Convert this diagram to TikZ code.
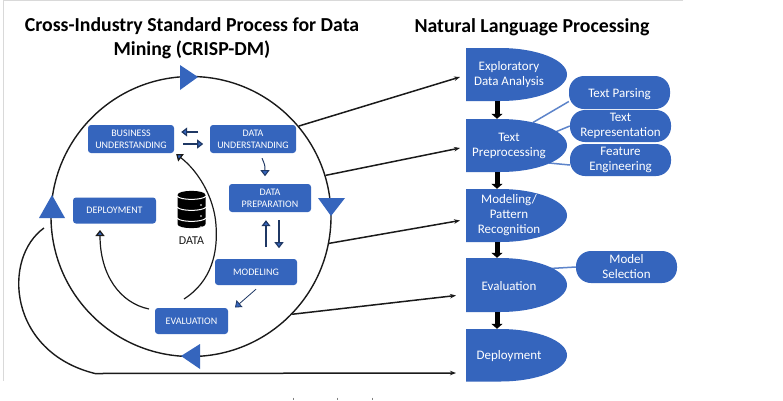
\documentclass[tikz,border=0pt]{standalone}
\usepackage{fontspec}
\setmainfont{Carlito}
\usetikzlibrary{arrows.meta,calc}
\definecolor{blu}{HTML}{3565BD}
\definecolor{navy}{HTML}{1F3864}
\definecolor{ink}{HTML}{1A1A1A}
\tikzset{
  x=1pt,y=-1pt,
  ttl/.style={font=\bfseries\fontsize{19.8}{23}\selectfont,text=black,align=center,inner sep=0},
  boxn/.style={fill=blu,rounded corners=3pt,text=white,align=center,inner sep=0,font=\fontsize{10}{12}\selectfont},
  pill/.style={fill=blu,rounded corners=15pt,text=white,align=center,inner sep=0,minimum width=101pt,font=\fontsize{13}{15}\selectfont,execute at begin node={\rule{0pt}{12.5pt}}},
  dtext/.style={text=white,align=center,inner sep=0,minimum width=86pt,font=\fontsize{13}{15}\selectfont,execute at begin node={\rule{0pt}{11.5pt}}},
  ring/.style={draw=ink,line width=1.4pt},
  link/.style={draw=ink,line width=1.5pt,-{Stealth[length=6pt,width=4.5pt]}},
  tie/.style={draw=blu!80!white,line width=1.5pt},
  bigdown/.style={draw=black,line width=5pt,-{Triangle[length=5pt,width=11pt]}},
  small/.style={draw=navy,line width=1.2pt,-{Triangle[length=6pt,width=9pt,fill=blu]}},
  tri/.style={fill=blu},
}
\newcommand{\dshape}[4]{% name, top, bottom, text
  \fill[blu] (466,#2) -- (500,#2) .. controls (537,#2) and (567,{#2+(#3-#2)*0.225}) .. (567,{(#2+#3)/2}) .. controls (567,{#3-(#3-#2)*0.225}) and (537,#3) .. (500,#3) -- (466,#3) -- cycle;
  \node[dtext,minimum height={(#3-#2)*1pt}] (#1) at (509,{(#2+#3)/2}) {#4};
}
\begin{document}
\begin{tikzpicture}
\useasboundingbox (0,0) rectangle (783,400);
\fill[white] (0,0) rectangle (783,400);
\draw[black!15,line width=1pt] (683,0.5) -- (3.5,0.5) -- (3.5,381);
% titles
\node[ttl] (t1) at (192,26) {Cross-Industry Standard Process for Data};
\node[ttl] (t2) at (192,50) {Mining (CRISP-DM)};
\node[ttl] (t3) at (532,27.5) {Natural Language Processing};
% ring
\node[circle,ring,minimum size=280pt,inner sep=0] (cyc) at (191,216.5) {};
\fill[tri] (180,65) -- (198,77) -- (180,90) -- cycle;
\fill[tri] (318,198) -- (345,198) -- (331,216) -- cycle;
\fill[tri] (200,344) -- (200,369) -- (181,356) -- cycle;
\fill[tri] (52,195) -- (65,218) -- (39,218) -- cycle;
% inner boxes
\node[boxn,minimum width=86pt,minimum height=28pt] (bu) at (131,139) {BUSINESS\\UNDERSTANDING};
\node[boxn,minimum width=86pt,minimum height=28pt] (du) at (253,139) {DATA\\UNDERSTANDING};
\node[boxn,minimum width=82pt,minimum height=28pt] (dp) at (270,198) {DATA\\PREPARATION};
\node[boxn,minimum width=83pt,minimum height=26pt] (de) at (114.5,210.5) {DEPLOYMENT};
\node[boxn,minimum width=82pt,minimum height=26pt] (mo) at (256,272) {MODELING};
\node[boxn,minimum width=73pt,minimum height=26pt] (ev) at (191.5,321) {EVALUATION};
% database
\node[text=ink,inner sep=0,font=\fontsize{12}{14}\selectfont] (dat) at (191.5,241) {DATA};
\fill[black] (177.5,195) .. controls (177.5,189.5) and (205.5,189.5) .. (205.5,195) -- (205.5,224) .. controls (205.5,229.5) and (177.5,229.5) .. (177.5,224) -- cycle;
\foreach \y in {196,207,218}{
  \draw[white,line width=1pt] (177,\y) .. controls (180,{\y+4.5}) and (203,{\y+4.5}) .. (206,\y);
  \fill[white] (201,{\y+9}) circle[radius=0.9];
}
% inner arrows
\draw[small] ([xshift=24pt,yshift=7pt]bu.east) -- ([xshift=7pt,yshift=7pt]bu.east);
\draw[small] ([xshift=9pt,yshift=-5pt]bu.east) -- ([xshift=29pt,yshift=-5pt]bu.east);
\draw[small,line width=1pt] ([xshift=9pt,yshift=-5pt]du.south) .. controls ([xshift=12pt,yshift=-12pt]du.south) .. ([xshift=12pt,yshift=-23pt]du.south);
\draw[small] ([xshift=-4pt,yshift=-35pt]dp.south) -- ([xshift=-4pt,yshift=-8pt]dp.south);
\draw[small] ([xshift=9pt,yshift=-8pt]dp.south) -- ([xshift=9pt,yshift=-36pt]dp.south);
\draw[small,line width=.8pt] ([yshift=-4pt]mo.south) -- (235,307.5);
\draw[small,draw=ink] (184,299) .. controls (212,281) and (218,252) .. (216,225) .. controls (214,196) and (197,170) .. ([xshift=2pt,yshift=-1pt]bu.south east);
\draw[small,draw=ink] (149,309) .. controls (120,303) and (100,275) .. (100,230);
% lower ring tail
\coordinate (tailtop) at (44,228);
\coordinate (tailbot) at (95,373.5);
\draw[ring] (tailtop) .. controls (2,258) and (8,352) .. (tailbot);
% right side
\coordinate (e1) at (533,122.5);
\coordinate (e2) at (553,133);
\coordinate (e3) at (549,163);
\coordinate (e4) at (550,268.5);
\node[pill,minimum height=33pt] (tp) at (619.5,92.5) {Text Parsing};
\node[pill,minimum height=32pt] (tr) at (620.5,126) {Text\\Representation};
\node[pill,minimum height=32pt] (fe) at (620.5,160) {Feature\\Engineering};
\node[pill,minimum height=32pt] (ms) at (626.5,267) {Model\\Selection};
\draw[tie] (tp.west) ++(0,9) -- (e1);
\draw[tie] (tr.west) -- (e2);
\draw[tie] (fe.west) ++(0,5) -- (e3);
\draw[tie] (ms.west) -- (e4);
\dshape{eda}{48}{101}{Exploratory\\Data Analysis}
\dshape{prep}{119}{172}{Text\\Preprocessing}
\dshape{pat}{189}{242}{Modeling/\\Pattern\\Recognition}
\dshape{evn}{258}{312}{Evaluation}
\dshape{dep}{329}{381.5}{Deployment}
% vertical arrows
\foreach \a/\b in {eda/prep,prep/pat,pat/evn,evn/dep}{
  \draw[bigdown] ([xshift=-12pt]\a.south) -- ([xshift=-12pt]\b.north);
}
% links
\coordinate (l1) at (460,77);
\coordinate (l2) at (460,148);
\coordinate (l3) at (460,220.5);
\coordinate (l4) at (456,295.5);
\coordinate (l5) at (456,373);
\draw[link] (cyc.40) -- (l1);
\draw[link] (cyc.17) -- (l2);
\draw[link] (cyc.-11) -- (l3);
\draw[link] (cyc.-44) -- (l4);
\draw[link] (tailbot) -- (l5);
% clipped caption remnants at the lower edge
\foreach \x in {293,337,372}{\draw[black!50,line width=1pt] (\x,397.5) -- (\x,400);}
\end{tikzpicture}
\end{document}
